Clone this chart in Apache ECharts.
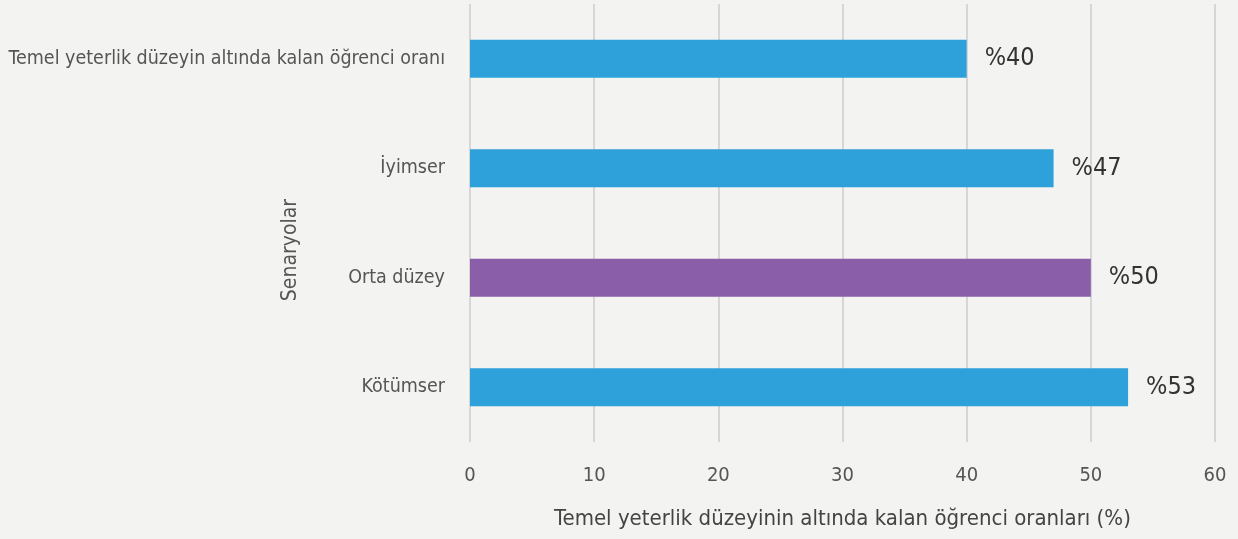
<!DOCTYPE html>
<html>
<head>
<meta charset="utf-8">
<script src="https://cdn.jsdelivr.net/npm/echarts@6/dist/echarts.min.js"></script>
<style>
    html, body { margin: 0; padding: 0; background: #f3f3f2; }
    #chart { width: 1238px; height: 539px; }
</style>
</head>
<body>
<div id="chart"></div>
<script>
// veriler
const categories = ['Kötümser', 'Orta düzey', 'İyimser', 'Temel yeterlik düzeyin altında kalan öğrenci oranı'];
const values = [53, 50, 47, 40];
const barColors = ['#2ea1da', '#8a5ea8', '#2ea1da', '#2ea1da'];
const xTicks = [0, 10, 20, 30, 40, 50, 60];

const FONT = '"DejaVu Sans Condensed", "Liberation Sans Narrow", sans-serif';

const chart = echarts.init(document.getElementById('chart'));
const option = {
    backgroundColor: '#f3f3f2',
    animation: false,
    grid: {
        top: 4,
        bottom: 97,
        left: 470,
        right: 23,
        outerBoundsMode: 'none',
        containLabel: false,
    },
    xAxis: {
        type: 'value',
        min: xTicks[0],
        max: xTicks[xTicks.length - 1],
        interval: 10,
        axisLine: { show: false },
        axisTick: { show: false },
        axisLabel: {
            color: '#555',
            fontSize: 20,
            fontFamily: FONT,
            margin: 24,
        },
        splitLine: {
            lineStyle: { color: '#d6d6d6', width: 2 },
        },
        name: 'Temel yeterlik düzeyinin altında kalan öğrenci oranları (%)',
        nameLocation: 'middle',
        nameGap: 66,
        nameMoveOverlap: false,
        nameTextStyle: {
            color: '#444',
            fontSize: 22,
            fontFamily: FONT,
        },
    },
    yAxis: {
        type: 'category',
        data: categories,
        axisLine: { show: false },
        axisTick: { show: false },
        axisLabel: {
            color: '#555',
            fontSize: 19.5,
            fontFamily: FONT,
            margin: 25,
        },
        name: 'Senaryolar',
        nameLocation: 'middle',
        nameGap: 169,
        nameMoveOverlap: false,
        nameTextStyle: {
            color: '#555',
            fontSize: 21,
            fontFamily: FONT,
            padding: [0, 54, 0, 0],
        },
    },
    series: [
        {
            type: 'bar',
            barWidth: 38,
            data: values.map((v, i) => ({
                value: v,
                itemStyle: { color: barColors[i] },
            })),
            label: {
                show: true,
                position: 'right',
                distance: 18,
                formatter: p => `%${p.value}`,
                color: '#333',
                fontSize: 25,
                fontFamily: FONT,
            },
        },
    ],
};
chart.setOption(option);
</script>
</body>
</html>
